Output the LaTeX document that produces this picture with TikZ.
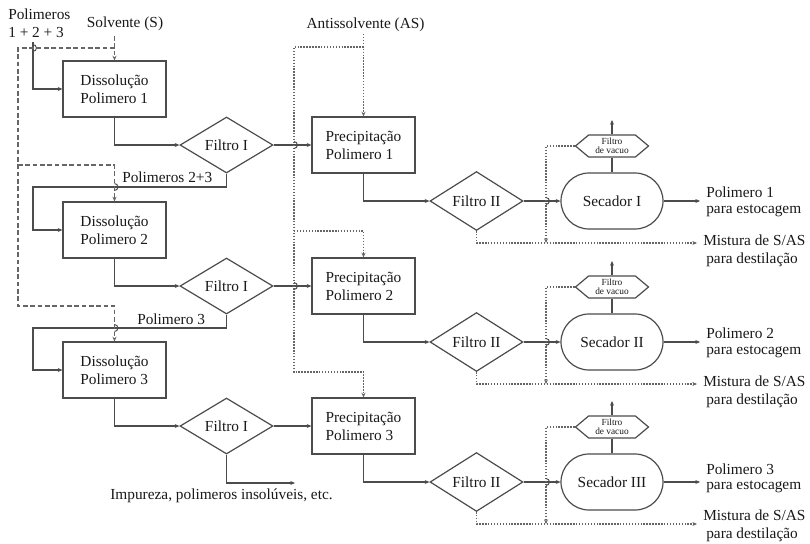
\documentclass[tikz,border=0pt]{standalone}
\usepackage{fontspec}
\setmainfont{Liberation Serif}
\usetikzlibrary{shapes.geometric,shapes.misc,shapes.symbols,arrows.meta}

\begin{document}
\begin{tikzpicture}[x=0.75pt,y=-0.75pt,
  ln/.style={draw=black!70, line width=0.9pt},
  arr/.style={-{Stealth[length=3.5pt,width=3pt]}},
  dashln/.style={draw=black!60, line width=0.9pt, dash pattern=on 3.5pt off 2pt},
  dotln/.style={draw=black!60, line width=0.9pt, dash pattern=on 1.1pt off 1.1pt},
  txt/.style={text=black!90, font=\fontsize{11.5}{13.5}\selectfont, inner sep=0pt},
  box/.style={ln, txt, rectangle, minimum width=77.25pt, minimum height=42pt, align=left},
  filt/.style={ln, txt, diamond, minimum width=69.75pt, minimum height=42pt},
  dryer/.style={ln, txt, rounded rectangle, minimum width=76.5pt, minimum height=42pt},
  vac/.style={ln, txt, signal, signal to=east and west, signal pointer angle=80,
    minimum width=54.75pt, minimum height=16.5pt, align=center,
    font=\fontsize{7}{6.5}\selectfont},
  hopmark/.style={draw=black!70, line width=0.7pt}
]
\fill[white] (0,0) rectangle (810,543);
\useasboundingbox (0,0) rectangle (810,543);

% three parallel process lines
\foreach \i/\r/\R/\ya/\yb/\yc/\yd in
    {1/0/I/192/211/240/260, 2/141/II/333/352/381/401, 3/281/III/469/487/515/535}{
  \node[box]   (d\i)  at (114.5,{89+\r})  {Dissolução\\Polimero \i};
  \node[filt]  (fa\i) at (226.5,{145+\r}) {Filtro I};
  \node[box]   (p\i)  at (363.5,{145+\r}) {Precipitação\\Polimero \i};
  \node[filt]  (fb\i) at (476.5,{201+\r}) {Filtro II};
  \node[dryer] (s\i)  at (612,{201+\r})   {Secador \R};
  \node[vac]   (v\i)  at (612,{146+\r})   {Filtro\\de vacuo};
  \coordinate (vo\i) at (612,{120+\r});
  \coordinate (po\i) at (700,{201+\r});
  \coordinate (mo\i) at (697,{243+\r});
  \coordinate (vj\i) at (546,{243+\r});
  \node[txt,anchor=west] (pt\i) at (706,\ya) {Polimero \i};
  \node[txt,anchor=west] (pe\i) at (706,\yb) {para estocagem};
  \node[txt,anchor=west] (mt\i) at (703,\yc) {Mistura de S/AS};
  \node[txt,anchor=west] (md\i) at (706,\yd) {para destilação};
  \draw[ln,arr] (d\i.south) |- (fa\i.west);
  \draw[ln,arr] (fa\i.east) -- (p\i.west);
  \draw[ln,arr] (p\i.south) |- (fb\i.west);
  \draw[ln,arr] (fb\i.east) -- (s\i.west);
  \draw[ln] (s\i.north) -- (v\i.south);
  \draw[ln,arr] (v\i.north) -- (vo\i);
  \draw[ln,arr] (s\i.east) -- (po\i);
  \draw[dotln,arr] (fb\i.south) |- (mo\i);
  \draw[dotln,arr] (v\i.west) -| (vj\i);
  \draw[hopmark] ([yshift=2.6pt]546,{201+\r}) arc[start angle=90,end angle=-90,radius=2.6pt];
}

% polymer feed and recycle of undissolved polymers
\node[txt,align=left,anchor=west] (pol) at (8,23) {Polimeros\\1 + 2 + 3};
\coordinate (pin) at (33,42);
\coordinate (k2) at (33,187);
\coordinate (k3) at (33,328);
\draw[ln,arr] (pin) |- (d1.west);
\draw[ln,arr] (fa1.south) |- (k2) |- (d2.west);
\draw[ln,arr] (fa2.south) |- (k3) |- (d3.west);
\node[txt,anchor=west] (l23) at (122,177) {Polimeros 2+3};
\node[txt,anchor=west] (l3) at (137,319) {Polimero 3};
\coordinate (imp) at (295,483);
\draw[ln,arr] (fa3.south) |- (imp);
\node[txt] (impt) at (221.5,496) {Impureza, polimeros insolúveis, etc.};

% solvent distribution
\node[txt] (sol) at (125,24) {Solvente (S)};
\coordinate (s0) at (114.5,36);
\coordinate (sA) at (114.5,48);
\coordinate (sB) at (18,306);
\coordinate (sC) at (18,165);
\draw[dashln,arr] (s0) -- (d1.north);
\draw[dashln,arr] (sA) -| (sB) -| (d3.north);
\draw[dashln,arr] (sC) -| (d2.north);

% antisolvent distribution
\node[txt] (ast) at (365.5,25) {Antissolvente (AS)};
\coordinate (a0) at (363.5,34);
\coordinate (aA) at (363.5,47);
\coordinate (aB) at (294,372);
\coordinate (aC) at (294,231);
\draw[dotln,arr] (a0) -- (p1.north);
\draw[dotln,arr] (aA) -| (aB) -| (p3.north);
\draw[dotln,arr] (aC) -| (p2.north);

% crossing marks
\foreach \c in {{33,48},{114.5,187},{114.5,328},{294,145},{294,286}}{
  \draw[hopmark] ([yshift=2.6pt]\c) arc[start angle=90,end angle=-90,radius=2.6pt];
}
\end{tikzpicture}
\end{document}
